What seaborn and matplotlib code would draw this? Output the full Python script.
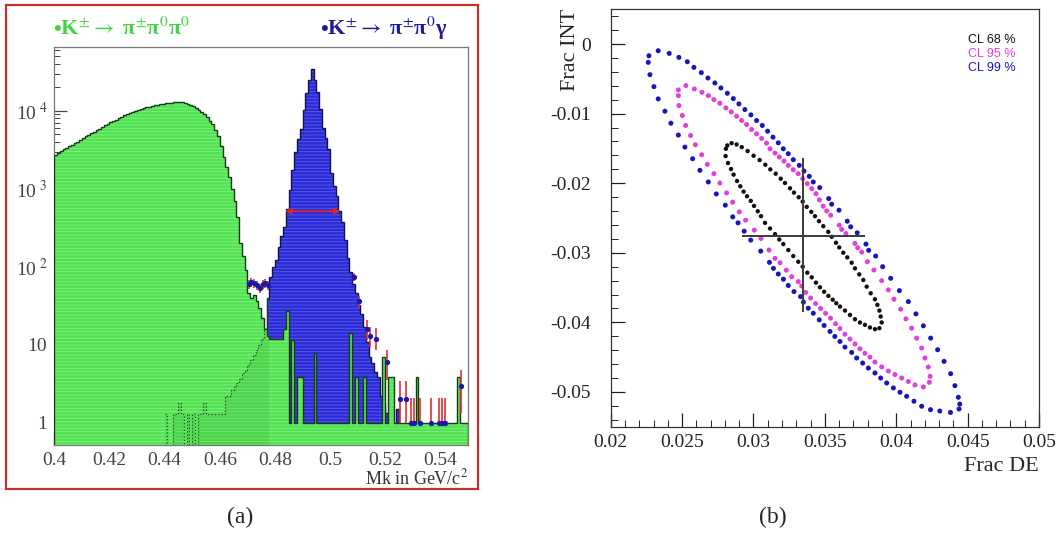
import numpy as np
import matplotlib
matplotlib.use("Agg")
import matplotlib.pyplot as plt
from matplotlib.patches import Rectangle
from matplotlib.ticker import MultipleLocator, LogLocator, NullFormatter
import seaborn as sns

# ==========================================
# STYLE
# ==========================================

sns.set_style("ticks")
plt.rcParams["font.family"] = ["Liberation Serif", "DejaVu Serif"]
plt.rcParams["mathtext.fontset"] = "stix"
plt.rcParams["axes.unicode_minus"] = False
plt.rcParams["hatch.linewidth"] = 0.6

# ==========================================
# DATA (a) : Mk spectrum, 1 MeV bins
# ==========================================

mk_lo, mk_hi, n_bins = 0.40, 0.55, 150

# K -> pi pi0 pi0 (green)
green_3pi = [
    2700, 2900, 3050, 3200, 3350, 3500, 3700, 3850, 4050, 4250,
    4450, 4700, 4900, 5150, 5400, 5650, 5900, 6200, 6500, 6850,
    7150, 7450, 7750, 8100, 8400, 8750, 9050, 9400, 9750, 10000,
    10300, 10600, 10850, 11100, 11350, 11550, 11800, 12000, 12150, 12300,
    12450, 12600, 12750, 12850, 12950, 13000, 12950, 12700, 12300, 11900,
    11400, 10800, 10200, 9600, 9000, 8300, 7500, 6700, 5700, 4700,
    3500, 2600, 1900, 1400, 1000, 700, 440, 200, 136, 90,
    46, 40, 44, 36, 30, 22, 16, 13, 12, 12,
    12, 12, 12, 16, 27, 1, 11.6, 1, 3.9, 3.9,
    1, 1, 1, 1, 7.8, 1, 1, 1, 1, 1,
    1, 1, 1, 1, 1, 1, 1, 14, 1, 3.9,
    1, 1, 3.9, 1, 1, 1, 1, 1, 1, 7,
    1, 3.9, 3.9, 1, 1, 1, 1, 1, 1, 1,
    1, 3.9, 1, 1, 1, 1, 1, 1, 1, 1,
    1, 1, 1, 1, 1, 1, 3.9, 1, 1, 1,
]

# K -> pi pi0 gamma (blue)
blue_2pig = [
    0, 0, 0, 0, 0, 0, 0, 0, 0, 0,
    0, 0, 0, 0, 0, 0, 0, 0, 0, 0,
    0, 0, 0, 0, 0, 0, 0, 0, 0, 0,
    0, 0, 0, 0, 0, 0, 0, 0, 0, 0,
    1.3, 0, 0, 1.3, 1.3, 1.8, 1.3, 0, 1.3, 0,
    1.3, 0, 1.3, 1.3, 1.8, 1.3, 1.3, 1.3, 1.3, 1.3,
    1.3, 1.3, 2.2, 2.2, 2.6, 2.9, 3.2, 3.6, 4.4, 4.8,
    5.5, 6.4, 7.5, 8.6, 10, 12, 16, 40, 75, 100,
    123, 180, 250, 320, 560, 970, 1750, 3000, 4300, 5800,
    10300, 17000, 25000, 34000, 25000, 17500, 10500, 6000, 4500, 3200,
    1600, 1100, 800, 520, 380, 222, 130, 85, 60, 46,
    32, 25, 17, 11, 7, 5.8, 4.5, 3.9, 2.2, 1.8,
    1.35, 1.1, 0, 0, 1.5, 0, 0, 0, 0, 0,
    0, 0, 0, 0, 0, 0, 0, 0, 0, 0,
    0, 0, 0, 0, 0, 0, 0, 0, 0, 0,
]

# bins where the pi pi0 gamma tail lies under the green histogram
tail_first, tail_last = 40, 78

# data points
data_mk = [0.4705, 0.4715, 0.4725, 0.4735, 0.4745, 0.4755, 0.4765, 0.4775,
           0.5085, 0.5105, 0.5135, 0.5145, 0.5165, 0.5205, 0.5255, 0.5275,
           0.5295, 0.5305, 0.5325, 0.5365, 0.5395, 0.5405, 0.5415, 0.5475]
data_n = [60, 64, 62, 58, 53, 60, 62, 58,
          75, 36, 16, 13, 12, 6, 2, 2,
          1, 1, 1, 1, 1, 1, 1, 3]
data_err_lo = [8, 8, 8, 8, 7, 8, 8, 8,
               9, 6, 4.5, 3.6, 3.5, 2.5, 1.0, 1.0,
               0, 0, 0, 0, 0, 0, 0, 1.66]
data_err_hi = [8, 8, 8, 8, 7, 8, 8, 8,
               9, 6, 5, 4, 4.3, 2.6, 1.4, 1.4,
               1.1, 1.1, 1.1, 1.1, 1.1, 1.1, 1.1, 1.8]

# width marker on the pi pi0 gamma peak
width_lo, width_hi, width_level = 0.4837, 0.5037, 520

# ==========================================
# DATA (b) : confidence contours, (Frac DE, Frac INT) x 1e-3
# ==========================================

cl68 = [
    (28.07, -15.05), (28.17, -14.57), (28.47, -14.24), (28.82, -14.43), (29.18, -14.81),
    (29.59, -15.38), (30.01, -16.05), (30.43, -16.67), (30.83, -17.34), (31.18, -18.01),
    (31.56, -18.63), (31.91, -19.35), (32.21, -19.97), (32.56, -20.73), (32.84, -21.35),
    (33.17, -22.02), (33.45, -22.64), (33.73, -23.40), (34.05, -24.12), (34.31, -24.74),
    (34.59, -25.46), (34.89, -26.18), (35.24, -26.99), (35.48, -27.70), (35.78, -28.56),
    (36.01, -29.23), (36.29, -29.99), (36.57, -30.66), (36.88, -31.43), (37.11, -32.24),
    (37.41, -33.10), (37.69, -33.91), (37.93, -34.87), (38.21, -35.82), (38.51, -36.68),
    (38.68, -37.49), (38.82, -38.31), (38.91, -39.16), (38.98, -40.02), (38.82, -40.84),
    (38.51, -40.98), (38.16, -40.74), (37.81, -40.36), (37.46, -40.02), (37.11, -39.55),
    (36.76, -38.93), (36.41, -38.31), (36.06, -37.73), (35.80, -37.25), (35.55, -36.75),
    (35.25, -36.20), (34.95, -35.60), (34.66, -34.96), (34.38, -34.29), (34.08, -33.53),
    (33.77, -32.86), (33.45, -32.00), (33.14, -31.29), (32.79, -30.47), (32.44, -29.61),
    (32.09, -28.75), (31.81, -28.09), (31.51, -27.32), (31.16, -26.51), (30.81, -25.70),
    (30.53, -24.74), (30.30, -24.03), (30.04, -23.26), (29.81, -22.54), (29.55, -21.88),
    (29.31, -21.21), (29.08, -20.44), (28.85, -19.68), (28.61, -18.77), (28.43, -17.96),
    (28.22, -17.10), (28.05, -16.10),
]

cl95 = [
    (24.74, -6.59), (25.27, -5.97), (25.86, -6.45), (26.39, -6.93), (26.84, -7.41),
    (27.23, -7.98), (27.65, -8.50), (28.07, -9.17), (28.45, -9.75), (28.82, -10.37),
    (29.17, -10.99), (29.52, -11.56), (29.87, -12.28), (30.22, -12.90), (30.57, -13.57),
    (30.92, -14.24), (31.16, -15.05), (31.51, -15.67), (31.81, -16.24), (32.14, -16.82),
    (32.44, -17.44), (32.79, -18.06), (33.14, -18.63), (33.45, -19.35), (33.77, -20.06),
    (34.08, -20.78), (34.38, -21.50), (34.62, -22.40), (34.89, -23.31), (35.13, -23.98),
    (35.41, -24.60), (36.01, -26.03), (36.18, -26.65), (36.48, -27.23), (37.11, -28.66),
    (37.30, -29.28), (37.58, -29.90), (37.98, -31.28), (38.44, -32.48), (38.98, -34.01),
    (39.45, -35.34), (39.84, -36.68), (40.31, -38.11), (40.68, -39.50), (41.08, -40.84),
    (41.43, -42.27), (41.78, -43.70), (42.01, -45.13), (42.25, -46.42), (42.37, -47.76),
    (42.32, -48.62), (41.90, -49.29), (41.31, -49.00), (40.85, -48.50), (40.38, -48.00),
    (39.91, -47.50), (39.45, -47.00), (38.98, -46.40), (38.51, -45.70), (38.16, -45.00),
    (37.81, -44.45), (37.46, -43.80), (37.11, -43.10), (36.76, -42.40), (36.41, -41.70),
    (36.06, -40.90), (35.75, -40.20), (35.40, -39.40), (35.05, -38.70), (34.70, -38.00),
    (34.35, -37.30), (34.00, -36.50), (33.65, -35.70), (33.38, -34.77), (33.14, -34.15),
    (32.68, -33.43), (32.30, -32.50), (31.86, -31.43), (31.51, -30.81), (31.09, -29.61),
    (30.53, -27.94), (30.06, -26.75), (29.45, -25.31), (29.01, -24.12), (28.54, -22.73),
    (28.12, -21.40), (27.65, -19.97), (27.23, -18.63), (26.77, -17.29), (26.37, -15.91),
    (25.93, -14.47), (25.60, -13.14), (25.25, -11.70), (25.02, -10.27), (24.78, -8.84),
    (24.74, -7.41),
]

cl99 = [
    (22.63, -2.63), (22.68, -1.68), (23.33, -0.96), (24.10, -1.34), (24.78, -1.91),
    (25.37, -2.54), (25.83, -3.35), (26.35, -4.11), (26.81, -4.88), (27.30, -5.59),
    (27.72, -6.31), (28.17, -7.07), (28.59, -7.84), (28.98, -8.60), (29.40, -9.41),
    (29.82, -10.18), (30.22, -10.99), (30.62, -11.70), (30.99, -12.52), (31.37, -13.38),
    (31.74, -14.19), (32.09, -15.05), (32.44, -15.76), (32.79, -16.62), (33.21, -17.44),
    (33.54, -18.25), (33.91, -19.01), (34.19, -19.82), (34.64, -20.63), (35.27, -22.21),
    (35.48, -23.02), (35.99, -23.88), (36.57, -25.46), (36.81, -26.27), (37.27, -27.13),
    (37.88, -28.75), (38.07, -29.65), (38.56, -30.47), (39.05, -32.00), (39.61, -33.67),
    (40.22, -35.44), (40.85, -37.02), (41.38, -38.78), (41.90, -40.50), (42.41, -42.27),
    (42.90, -43.94), (43.35, -45.61), (43.81, -47.38), (44.11, -49.10), (44.35, -50.77),
    (44.45, -51.75), (44.40, -52.45), (43.80, -52.95), (43.05, -52.75), (42.40, -52.55),
    (41.78, -52.06), (41.24, -51.34), (40.73, -50.63), (40.26, -50.05), (39.80, -49.43),
    (39.33, -48.72), (38.91, -48.00), (38.51, -47.28), (38.05, -46.57), (37.65, -45.85),
    (37.23, -45.13), (36.88, -44.32), (36.41, -43.56), (36.06, -42.75), (35.70, -42.03),
    (35.36, -41.31), (34.95, -40.45), (34.61, -39.64), (34.19, -38.69), (33.84, -37.97),
    (33.50, -37.10), (33.30, -36.30), (32.84, -35.58), (32.44, -34.70), (32.10, -33.80),
    (31.74, -33.05), (31.40, -32.24), (31.12, -31.38), (30.51, -29.76), (29.81, -28.18),
    (29.35, -26.90), (28.92, -25.70), (28.55, -24.84), (28.03, -23.16), (27.40, -21.54),
    (26.84, -19.82), (26.25, -18.15), (25.74, -16.48), (25.20, -14.81), (24.74, -13.08),
    (24.22, -11.37), (23.80, -9.65), (23.33, -7.88), (23.03, -6.12), (22.75, -4.40),
]

# best fit point with its errors (x 1e-3)
best_de, best_int = 33.5, -27.56
de_err_lo, de_err_hi = 4.3, 4.3
int_err_lo, int_err_hi = 11.0, 11.2

cl_labels = ["CL 68 %", "CL 95 %", "CL 99 %"]
cl_colors = ["#111111", "#e23fdc", "#1616bc"]
cl_sizes = [10, 13, 13]

# ==========================================
# FIGURE
# ==========================================

fig = plt.figure(figsize=(10.6, 5.37), dpi=100)

ax1 = fig.add_axes([0.0512, 0.1713, 0.3903, 0.7412])
ax2 = fig.add_axes([0.5761, 0.2054, 0.4041, 0.7773])

# ==========================================
# PANEL (a)
# ==========================================

edges = np.linspace(mk_lo, mk_hi, n_bins + 1)
green = np.array(green_3pi, dtype=float)
blue = np.array(blue_2pig, dtype=float)
assert len(green) == n_bins and len(blue) == n_bins
floor = 1e-2
blue_c = np.clip(blue, floor, None)

ax1.set_yscale("log")

ax1.stairs(blue_c, edges, fill=True, baseline=floor,
           color="#2b2bd8", zorder=2)
ax1.stairs(blue_c, edges, fill=True, baseline=floor, facecolor="none",
           edgecolor="#5c5ce6", hatch="-----", lw=0, zorder=2.05)
ax1.stairs(blue_c, edges, fill=False, baseline=floor,
           color="#14144a", lw=1.0, zorder=2.1)

ax1.stairs(green, edges, fill=True, baseline=floor,
           color="#52e352", zorder=3)
ax1.stairs(green, edges, fill=True, baseline=floor, facecolor="none",
           edgecolor="#86ee86", hatch="-----", lw=0, zorder=3.05)
ax1.stairs(green, edges, fill=False, baseline=floor,
           color="#173a17", lw=1.0, zorder=3.1)

tail = blue_c[tail_first:tail_last]
ax1.stairs(tail, edges[tail_first:tail_last + 1], fill=True,
           baseline=floor, color="#2f9e2f", alpha=0.18, lw=0, zorder=3.2)
ax1.stairs(tail, edges[tail_first:tail_last + 1], fill=False,
           baseline=None, color="#1d4d1d", lw=0.9, ls=":", zorder=3.3)

ax1.errorbar(data_mk, data_n, yerr=[data_err_lo, data_err_hi],
             fmt="o", ms=2.8, color="#1a1aa8", ecolor="#e23030",
             elinewidth=1.2, capsize=0, zorder=5)

ax1.annotate("", xy=(width_lo, width_level), xytext=(width_hi, width_level),
             arrowprops=dict(arrowstyle="<|-|>", color="#e02525", lw=1.3,
                             mutation_scale=8, shrinkA=0, shrinkB=0),
             zorder=6)

ax1.set_xlim(mk_lo, mk_hi)
ax1.set_ylim(0.52, 6.6e4)

ax1.set_xticks(np.arange(0.40, 0.541, 0.02))
ax1.set_xticklabels(["0.4", "0.42", "0.44", "0.46", "0.48", "0.5", "0.52", "0.54"])
ax1.xaxis.set_minor_locator(MultipleLocator(0.005))

ax1.set_yticks([1, 10, 100, 1000, 10000])
ax1.set_yticklabels(["1", "10", r"10$^{\ 2}$", r"10$^{\ 3}$", r"10$^{\ 4}$"])
ax1.yaxis.set_minor_locator(LogLocator(base=10, subs=np.arange(2, 10)))
ax1.yaxis.set_minor_formatter(NullFormatter())

ax1.tick_params(axis="both", which="both", direction="in", colors="#444444",
                labelsize=14, pad=5)
ax1.tick_params(which="major", length=9, width=0.9)
ax1.tick_params(which="minor", length=4.5, width=0.7)

for sp in ax1.spines.values():
    sp.set_color("#777777")
    sp.set_linewidth(0.9)

ax1.set_xlabel(r"Mk in GeV/c$^2$", fontsize=13, color="#333333", loc="right")
ax1.xaxis.set_label_coords(1.0, -0.058)

fig.text(0.050, 0.935, r"$\bullet$K$^{\pm}$$\rightarrow$ π$^{\pm}$π$^{0}$π$^{0}$",
         color="#3fd63f", fontsize=16, fontweight="bold", va="baseline")
fig.text(0.302, 0.935, r"$\bullet$K$^{\pm}$$\rightarrow$ π$^{\pm}$π$^{0}$γ",
         color="#1c1c96", fontsize=16, fontweight="bold", va="baseline")

fig.patches.append(Rectangle((0.0057, 0.0894), 0.4453, 0.9022,
                             transform=fig.transFigure, fill=False,
                             edgecolor="#c83030", lw=1.6))

# ==========================================
# PANEL (b)
# ==========================================

for pts, col, sz in zip([cl68, cl95, cl99], cl_colors, cl_sizes):
    arr = np.array(pts) / 1000.0
    sns.scatterplot(x=arr[:, 0], y=arr[:, 1], color=col, s=sz,
                    edgecolor="none", linewidth=0, ax=ax2, zorder=3)

ax2.errorbar([best_de / 1000.0], [best_int / 1000.0],
             xerr=[[de_err_lo / 1000.0], [de_err_hi / 1000.0]],
             yerr=[[int_err_lo / 1000.0], [int_err_hi / 1000.0]],
             fmt="none", ecolor="#3a3a3a", elinewidth=1.4, capsize=0, zorder=4)

ax2.set_xlim(0.02, 0.05)
ax2.set_ylim(-0.055, 0.005)

ax2.set_xticks([0.02, 0.025, 0.03, 0.035, 0.04, 0.045, 0.05])
ax2.set_xticklabels(["0.02", "0.025", "0.03", "0.035", "0.04", "0.045", "0.05"])
ax2.xaxis.set_minor_locator(MultipleLocator(0.001))

ax2.set_yticks([0, -0.01, -0.02, -0.03, -0.04, -0.05])
ax2.set_yticklabels(["0", "-0.01", "-0.02", "-0.03", "-0.04", "-0.05"])
ax2.yaxis.set_minor_locator(MultipleLocator(0.002))

ax2.tick_params(axis="both", which="both", direction="in", colors="#222222",
                labelsize=14)
ax2.tick_params(axis="y", pad=14)
ax2.tick_params(axis="x", pad=5)
ax2.tick_params(which="major", length=10, width=0.9)
ax2.tick_params(which="minor", length=5, width=0.7)

for sp in ax2.spines.values():
    sp.set_color("#333333")
    sp.set_linewidth(0.9)

ax2.set_xlabel("Frac DE", fontsize=16, loc="right")
ax2.xaxis.set_label_coords(1.0, -0.072)
ax2.set_ylabel("Frac INT", fontsize=16, loc="top")
ax2.yaxis.set_label_coords(-0.072, 1.0)

for i, (lab, col) in enumerate(zip(cl_labels, cl_colors)):
    ax2.text(0.834, 0.926 - i * 0.033, lab, transform=ax2.transAxes,
             color=col, fontsize=9, family=["Liberation Sans", "DejaVu Sans"],
             va="center", ha="left")

# ==========================================
# PANEL LABELS
# ==========================================

fig.text(0.2264, 0.037, "(a)", fontsize=17, ha="center", va="center")
fig.text(0.7292, 0.037, "(b)", fontsize=17, ha="center", va="center")

fig.savefig("out.png", dpi=100)
plt.close(fig)
